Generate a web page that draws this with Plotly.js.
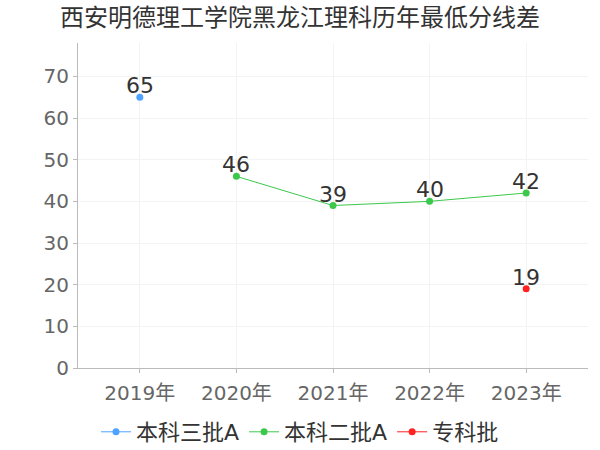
<!DOCTYPE html>
<html>
<head>
<meta charset="utf-8">
<script src="https://cdn.plot.ly/plotly-3.0.1.min.js"></script>
<style>body{margin:0;} #myDiv{width:600px;height:450px;}</style>
</head>
<body>
<div id="myDiv"></div>
<script>
var years = ["2019年", "2020年", "2021年", "2022年", "2023年"];

var sanpiYears = ["2019年"];
var sanpiValues = [65];

var erpiYears = ["2020年", "2021年", "2022年", "2023年"];
var erpiValues = [46, 39, 40, 42];

var zhuankeYears = ["2023年"];
var zhuankeValues = [19];

var fontFam = "DejaVu Sans, Noto Sans CJK SC";

var sanpi = {
  x: sanpiYears,
  y: sanpiValues,
  name: "本科三批A",
  type: "scatter",
  mode: "lines+markers",
  marker: { color: "#4da3ff", size: 7 },
  line: { color: "#4da3ff", width: 1 },
};

var erpi = {
  x: erpiYears,
  y: erpiValues,
  name: "本科二批A",
  type: "scatter",
  mode: "lines+markers",
  marker: { color: "#3cc84b", size: 7 },
  line: { color: "#3cc84b", width: 1 },
};

var zhuanke = {
  x: zhuankeYears,
  y: zhuankeValues,
  name: "专科批",
  type: "scatter",
  mode: "lines+markers",
  marker: { color: "#ff2020", size: 7 },
  line: { color: "#ff2020", width: 1 },
};

var data = [sanpi, erpi, zhuanke];

// value labels just above each point
var annotations = [];
data.forEach(function (tr) {
  tr.x.forEach(function (xv, i) {
    annotations.push({
      x: xv,
      y: tr.y[i],
      text: String(tr.y[i]),
      showarrow: false,
      yanchor: "bottom",
      yshift: -3,
      font: { family: fontFam, size: 22, color: "#333333" },
    });
  });
});

var layout = {
  width: 600,
  height: 450,
  title: {
    text: "西安明德理工学院黑龙江理科历年最低分线差",
    font: { family: fontFam, size: 24, color: "#333333" },
    x: 0.5,
    xanchor: "center",
    y: 0.96,
    yanchor: "middle",
  },
  margin: { l: 78, r: 12, t: 43, b: 82 },
  paper_bgcolor: "#ffffff",
  plot_bgcolor: "#ffffff",
  showlegend: true,
  legend: {
    orientation: "h",
    x: 0.5,
    xanchor: "center",
    xref: "container",
    y: 0.04,
    yanchor: "middle",
    yref: "container",
    font: { family: fontFam, size: 22, color: "#333333" },
    itemwidth: 30,
  },
  annotations: annotations,
  xaxis: {
    type: "category",
    categoryorder: "array",
    categoryarray: years,
    range: [-0.64, 4.64],
    showline: true,
    linecolor: "#bbbbbb",
    linewidth: 1,
    showgrid: true,
    gridcolor: "#f3f3f3",
    ticks: "outside",
    ticklen: 4,
    tickcolor: "#bbbbbb",
    ticklabelstandoff: 3,
    tickfont: { family: fontFam, size: 20, color: "#666666" },
    zeroline: false,
  },
  yaxis: {
    range: [0, 78],
    tickvals: [0, 10, 20, 30, 40, 50, 60, 70],
    showline: true,
    linecolor: "#bbbbbb",
    linewidth: 1,
    showgrid: true,
    gridcolor: "#f3f3f3",
    ticks: "outside",
    ticklen: 4,
    tickcolor: "#bbbbbb",
    tickfont: { family: fontFam, size: 20, color: "#666666" },
    zeroline: false,
  },
};

var config = { displayModeBar: false };

Plotly.newPlot("myDiv", data, layout, config);
</script>
</body>
</html>
